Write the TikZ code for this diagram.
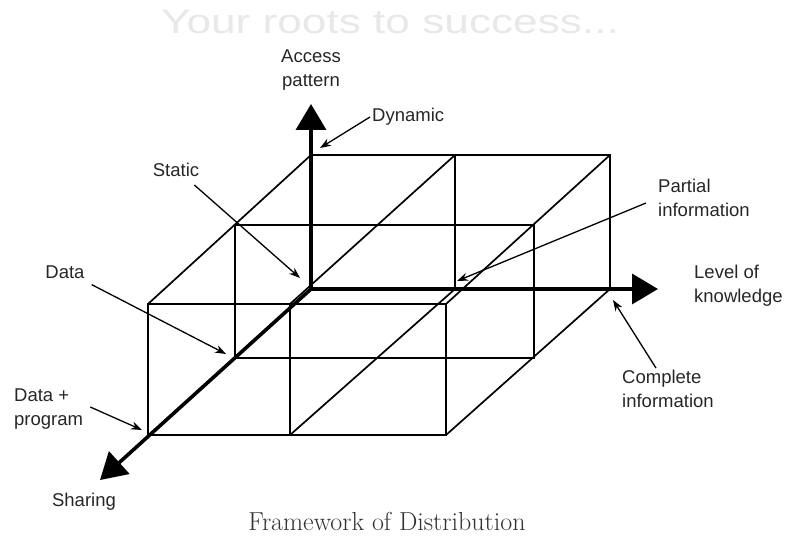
\documentclass[tikz,border=0pt]{standalone}
\usepackage{fontspec}
\usepackage{xcolor}
\usepackage{tikz}
\usetikzlibrary{arrows.meta}
\newfontfamily\labfont{Liberation Sans}

\begin{document}
\begin{tikzpicture}[
    x=1pt,y=-1pt,
    grid/.style={line width=1.7pt,line cap=round},
    axis/.style={line width=3.6pt,-{Triangle[length=26pt,width=30pt]}},
    note/.style={line width=1.3pt,-{Stealth[length=11pt,width=8pt]}},
    lab/.style={font=\labfont\fontsize{18.5}{24}\selectfont,text=black!85,inner sep=2pt,align=left}
]
\useasboundingbox (0,0) rectangle (786,540);
% lattice corners: back, middle, front layer
\coordinate (o) at (311,289);
\coordinate (b10) at (455,289);
\coordinate (b20) at (610,289);
\coordinate (b01) at (311,155);
\coordinate (b11) at (455,155);
\coordinate (b21) at (610,155);
\coordinate (m00) at (235,358);
\coordinate (m20) at (534,358);
\coordinate (m01) at (235,225);
\coordinate (m21) at (534,225);
\coordinate (f00) at (148,435);
\coordinate (f10) at (290,435);
\coordinate (f20) at (446,435);
\coordinate (f01) at (148,304);
\coordinate (f11) at (290,304);
\coordinate (f21) at (446,304);
% axis tips
\coordinate (ytip) at (311,104);
\coordinate (xtip) at (658,289);
\coordinate (ztip) at (100,480);
% ends of the pointers
\coordinate (dyn) at (320,148);
\coordinate (sta) at (300,278);
\coordinate (dat) at (226,354);
\coordinate (dpr) at (142,430);
\coordinate (par) at (457,281);
\coordinate (com) at (613,300);

\draw[grid] (b01) -- (b21) -- (b20);
\draw[grid] (b11) -- (b10);
\draw[grid] (m01) -- (m21) -- (m20) -- (m00) -- cycle;
\draw[grid] (f01) -- (f21) -- (f20) -- (f00) -- cycle;
\draw[grid] (f11) -- (f10);
\draw[grid] (b01) -- (f01);
\draw[grid] (b11) -- (f11);
\draw[grid] (b21) -- (f21);
\draw[grid] (b10) -- (f10);
\draw[grid] (b20) -- (f20);

\draw[axis] (o) -- (ytip);
\draw[axis] (o) -- (xtip);
\draw[axis] (o) -- (ztip);

\node[font=\labfont\fontsize{34}{40}\selectfont,text=black!9,xscale=1.3,transform shape] (mark) at (390,22) {Your roots to success...};
\node[lab,align=center] (access) at (311,70) {Access\\pattern};
\node[lab,anchor=west] (dynamic) at (370,117) {Dynamic};
\node[lab] (static) at (176,170) {Static};
\node[lab] (data) at (65,272) {Data};
\node[lab,anchor=west] (dataprog) at (12,409) {Data +\\program};
\node[lab] (sharing) at (84,502) {Sharing};
\node[lab,anchor=west] (level) at (692,286) {Level of\\knowledge};
\node[lab,anchor=west] (partial) at (656,198) {Partial\\information};
\node[lab,anchor=west] (complete) at (620,389) {Complete\\information};
\node[font=\fontsize{26}{30}\selectfont,text=black!80] (caption) at (387,521) {Framework of Distribution};

\draw[note] (dynamic.west) -- (dyn);
\draw[note] ([shift={(-7,6)}]static.south east) -- (sta);
\draw[note] ([shift={(5,4)}]data.south east) -- (dat);
\draw[note] ([shift={(5,-2)}]dataprog.east) -- (dpr);
\draw[note] ([shift={(-10,5)}]partial.west) -- (par);
\draw[note] ([xshift=-12pt]complete.north) -- (com);
\end{tikzpicture}
\end{document}
